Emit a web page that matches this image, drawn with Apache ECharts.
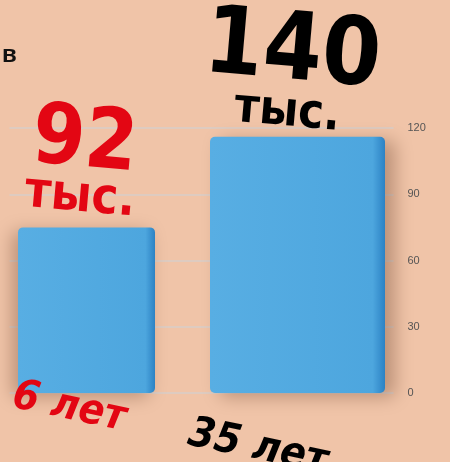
<!DOCTYPE html>
<html><head><meta charset="utf-8">
<script src="https://cdn.jsdelivr.net/npm/echarts@6/dist/echarts.min.js"></script>
<style>html,body{margin:0;padding:0;background:#F0C4A8;}#c{width:450px;height:462px;}</style>
</head><body><div id="c"></div>
<script>
var categories = ['6 лет', '35 лет'];
var barHeights = [75, 116];          // bar heights as drawn against the axis
var valueLabels = ['92', '140'];     // printed values
var unitLabel = 'тыс.';
var yTicks = [0, 30, 60, 90, 120];

var chart = echarts.init(document.getElementById('c'));
var font = '"DejaVu Sans Condensed", "DejaVu Sans", sans-serif';
var W = 'bold';
function barColor() {
  return new echarts.graphic.LinearGradient(0, 0, 1, 0, [
    {offset: 0, color: '#58AEE3'},
    {offset: 0.93, color: '#4DA6DE'},
    {offset: 1, color: '#2C82C4'}
  ]);
}
function mkSeries(i, width, color) {
  var d = categories.map(function (c, j) { return j === i ? barHeights[j] : '-'; });
  return {
    type: 'bar', data: d, barWidth: width, barGap: '-100%',
    itemStyle: {color: barColor(), borderRadius: 5, shadowBlur: 18, shadowColor: 'rgba(90,50,30,0.35)', shadowOffsetX: i === 0 ? -6 : 10, shadowOffsetY: 4},
    label: {
      show: true, position: 'top', distance: i === 0 ? 12 : 4, rotate: -5,
      offset: i === 0 ? [-8, 2] : [-12, 0],
      formatter: function () { return '{n|' + valueLabels[i] + '}\n{t|' + unitLabel + '}'; },
      rich: {
        n: {fontFamily: font, fontWeight: W, fontSize: i === 0 ? 84 : 94, lineHeight: i === 0 ? 70 : 80, color: color, align: 'center'},
        t: {fontFamily: font, fontWeight: W, fontSize: i === 0 ? 50 : 48, lineHeight: 38, color: color, align: 'center'}
      }
    }
  };
}
var catFont = {fontFamily: font, fontWeight: W, fontStyle: 'italic', fontSize: 42};
chart.setOption({
  backgroundColor: '#F0C4A8',
  animation: false,
  title: {text: 'в', left: -3, top: 38, textStyle: {fontFamily: 'Liberation Sans, sans-serif', fontWeight: 'bold', fontSize: 24, color: '#111'}},
  grid: {left: 9.5, right: 56.5, top: 128, bottom: 69, outerBoundsMode: 'none', containLabel: false},
  xAxis: {
    type: 'category', z: 10,
    data: [
      {value: categories[0], textStyle: {color: '#E30613', align: 'center', verticalAlign: 'middle'}},
      {value: categories[1], textStyle: {color: '#000', align: 'center', verticalAlign: 'middle'}}
    ],
    axisLine: {show: false}, axisTick: {show: false},
    axisLabel: {
      rotate: -12, align: 'center', verticalAlign: 'middle', margin: 0, interval: 0,
      fontFamily: font, fontWeight: W, fontStyle: 'italic', fontSize: 42,
      formatter: function (v, i) { return i === 0 ? '{a|' + v + '}' : '{b|' + v + '}'; },
      rich: {
        a: Object.assign({color: '#E30613', padding: [44, 65, 0, 0]}, catFont),
        b: Object.assign({color: '#000', padding: [124, 55, 0, 0]}, catFont)
      }
    }
  },
  yAxis: {
    type: 'value', position: 'right', min: 0, max: 120, interval: 30,
    axisLine: {show: false}, axisTick: {show: false},
    axisLabel: {margin: 14, color: '#555', fontSize: 11, fontFamily: 'Liberation Sans, sans-serif',
      formatter: function (v) { return yTicks.indexOf(v) >= 0 ? String(v) : ''; }},
    splitLine: {lineStyle: {color: '#D8CEC8', width: 1.5}}
  },
  series: [mkSeries(0, 137, '#E30613'), mkSeries(1, 175, '#000')]
});
</script></body></html>
